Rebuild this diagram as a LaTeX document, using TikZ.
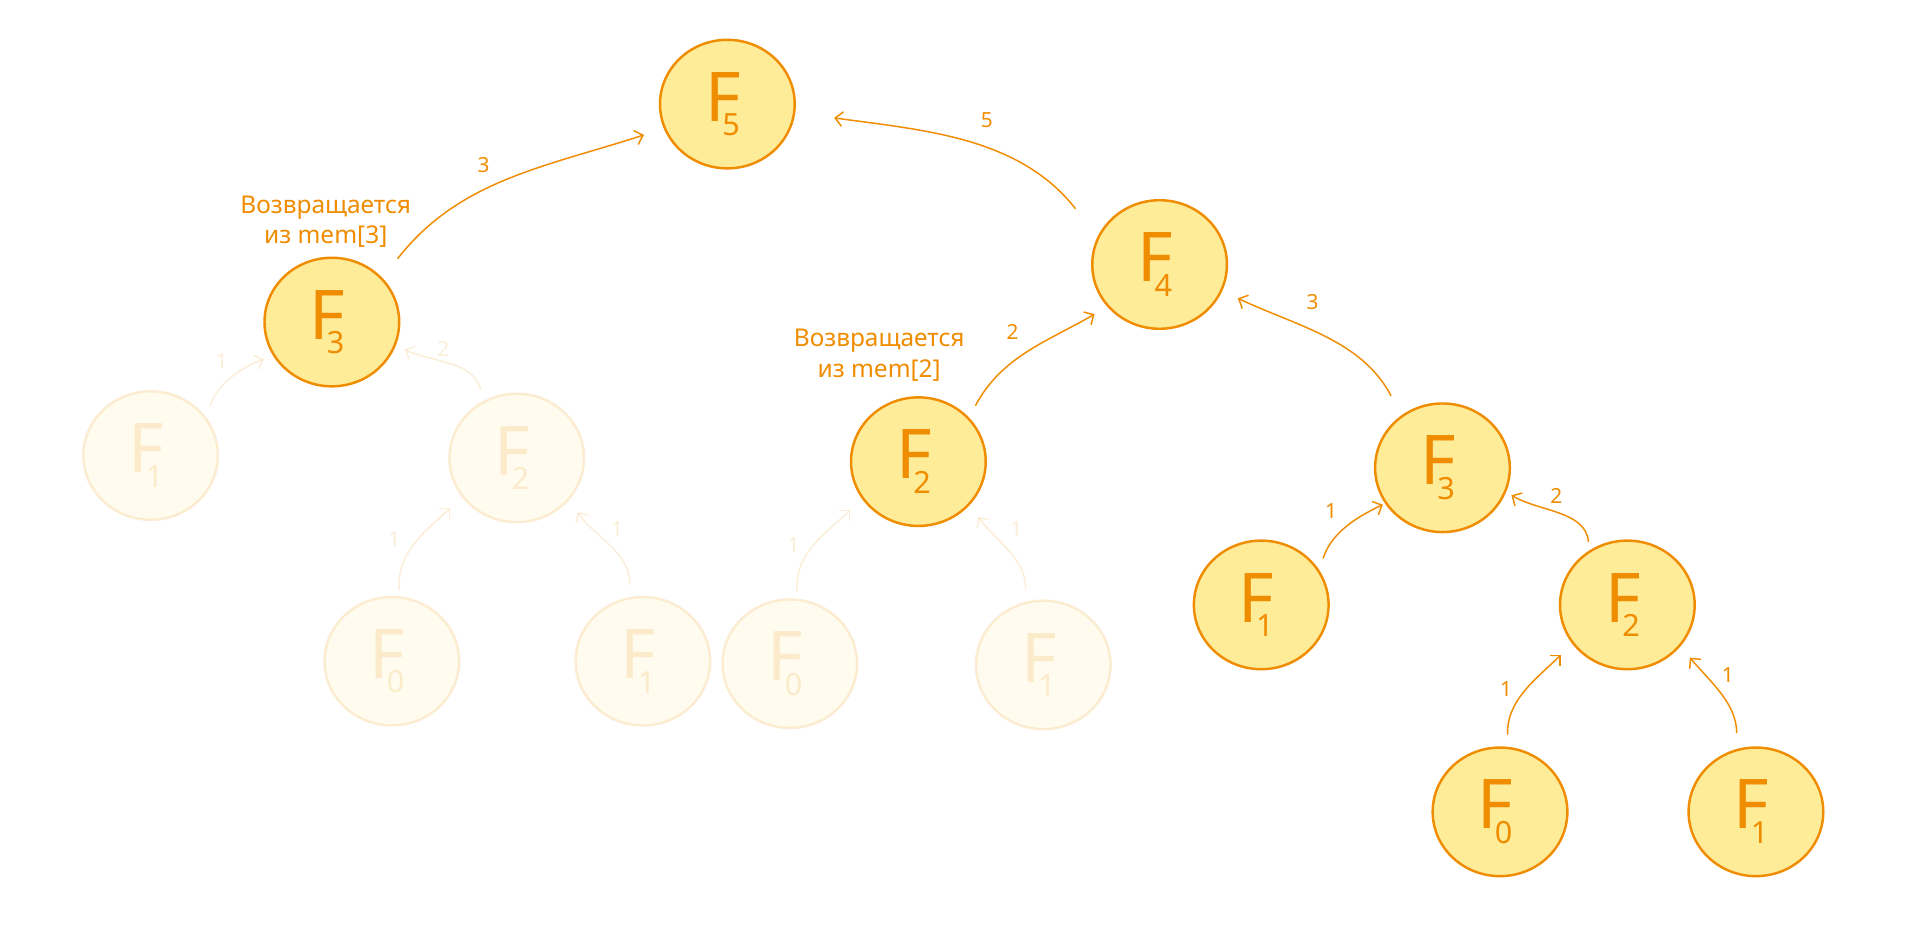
\documentclass[tikz,border=0pt]{standalone}
\usepackage{fontspec}
\setmainfont{Noto Sans}
\usetikzlibrary{arrows.meta,shapes.geometric}
\definecolor{fib}{HTML}{FFEC99}
\definecolor{fibline}{HTML}{F08C00}
\newcommand{\fibF}[1]{{\fontsize{56}{56}\selectfont F\kern-15pt\raisebox{-12pt}{\fontsize{25}{25}\selectfont #1}\kern8pt}}
\begin{document}
\begin{tikzpicture}[x=1pt,y=1pt,
  fnode/.style={ellipse, draw=fibline, fill=fib, line width=2pt, minimum width=110pt, minimum height=105pt, inner sep=0pt, text=fibline},
  faded/.style={opacity=0.15},
  arr/.style={draw=fibline, line width=1.2pt, -{Straight Barb[length=6pt,width=12pt]}},
  elab/.style={text=fibline, font=\fontsize{17}{17}\selectfont, inner sep=0pt},
  note/.style={text=fibline, align=center, font=\fontsize{20}{25}\selectfont, inner sep=0pt}
]
\fill[white] (0,0) rectangle (1568,-768.5);
\useasboundingbox (0,0) rectangle (1568,-768.5);

% solid nodes
\node[fnode] (F5)  at (594,-85)   {\fibF{5}};
\node[fnode] (F4)  at (947,-216)  {\fibF{4}};
\node[fnode] (F3L) at (271,-263)  {\fibF{3}};
\node[fnode] (F2m) at (750,-377)  {\fibF{2}};
\node[fnode] (F3R) at (1178,-382) {\fibF{3}};
\node[fnode] (F1R) at (1030,-494) {\fibF{1}};
\node[fnode] (F2R) at (1329,-494) {\fibF{2}};
\node[fnode] (F0R) at (1225,-663) {\fibF{0}};
\node[fnode] (F1S) at (1434,-663) {\fibF{1}};

% faded nodes and arrows
\begin{scope}[faded]
\node[fnode] (F1a) at (123,-372) {\fibF{1}};
\node[fnode] (F2a) at (422,-374) {\fibF{2}};
\node[fnode] (F0a) at (320,-540) {\fibF{0}};
\node[fnode] (F1c) at (525,-540) {\fibF{1}};
\node[fnode] (F0b) at (645,-542) {\fibF{0}};
\node[fnode] (F1d) at (852,-543) {\fibF{1}};
\draw[arr, shorten <=9pt, shorten >=8pt] (F1a.35) to[out=70, in=200] (F3L.210);
\draw[arr, shorten <=9pt, shorten >=8pt] (F2a.121) to[out=100, in=-25] (F3L.-20);
\draw[arr, shorten <=5pt, shorten >=13pt] (F0a.83) to[out=95, in=225] (F2a.215);
\draw[arr, shorten <=10pt, shorten >=12pt] (F1c.102) to[out=88, in=-55] (F2a.-39);
\draw[arr, shorten <=6pt, shorten >=13pt] (F0b.83) to[out=95, in=225] (F2m.213);
\draw[arr, shorten <=10pt, shorten >=12pt] (F1d.106) to[out=88, in=-55] (F2m.-40);
\node[elab] (la1) at (181,-295) {1};
\node[elab] (la2) at (362,-285) {2};
\node[elab] (la3) at (322,-440) {1};
\node[elab] (la4) at (504,-432) {1};
\node[elab] (la5) at (648,-445) {1};
\node[elab] (la6) at (830,-432) {1};
\end{scope}

% solid arrows
\draw[arr, shorten <=20pt, shorten >=17pt] (F3L.41) to[out=52, in=198] (F5.201);
\draw[arr, shorten <=29pt, shorten >=32pt] (F4.156) to[out=128, in=-8] (F5.-7);
\draw[arr, shorten <=11pt, shorten >=12pt] (F2m.41) to[out=62, in=210] (F4.219);
\draw[arr, shorten <=18pt, shorten >=14pt] (F3R.128) to[out=118, in=-25] (F4.-23);
\draw[arr, shorten <=10pt, shorten >=2pt] (F1R.31) to[out=72, in=205] (F3R.212);
\draw[arr, shorten <=7pt, shorten >=5pt] (F2R.125) to[out=95, in=-30] (F3R.-21);
\draw[arr, shorten <=10pt, shorten >=13pt] (F0R.83) to[out=92, in=225] (F2R.215);
\draw[arr, shorten <=13pt, shorten >=12pt] (F1S.107) to[out=90, in=-50] (F2R.-38);

% edge labels
\node[elab] (l1) at (395,-135) {3};
\node[elab] (l2) at (806,-98) {5};
\node[elab] (l3) at (827,-271) {2};
\node[elab] (l4) at (1072,-247) {3};
\node[elab] (l5) at (1087,-417) {1};
\node[elab] (l6) at (1271,-405) {2};
\node[elab] (l7) at (1230,-563) {1};
\node[elab] (l8) at (1411,-551) {1};

% notes
\node[note] (n1) at (266,-181) {Возвращается\\из mem[3]};
\node[note] (n2) at (718,-290) {Возвращается\\из mem[2]};
\end{tikzpicture}
\end{document}
